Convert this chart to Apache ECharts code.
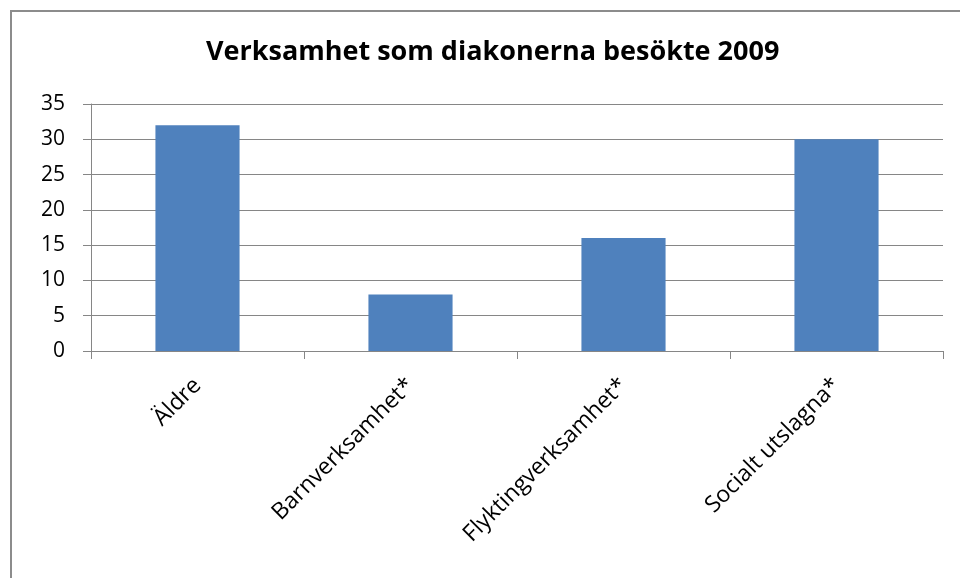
<!DOCTYPE html>
<html>
<head>
<meta charset="utf-8">
<script src="https://cdn.jsdelivr.net/npm/echarts@6/dist/echarts.min.js"></script>
<style>
html, body {margin: 0; padding: 0; background: #fff;}
#chart {width: 960px; height: 578px;}
</style>
</head>
<body>
<div id="chart"></div>
<script>
// data
var categories = ['Äldre', 'Barnverksamhet*', 'Flyktingverksamhet*', 'Socialt utslagna*'];
var values = [32, 8, 16, 30];
var titleText = 'Verksamhet som diakonerna besökte 2009';

var font = '"Open Sans", "DejaVu Sans", sans-serif';
var e = echarts.init(document.getElementById('chart'));
var option = {
    animation: false,
    backgroundColor: '#fff',
    title: {
        text: titleText,
        left: 201,
        top: 34,
        textStyle: {fontFamily: font, fontSize: 27, fontWeight: 'bold', color: '#000'}
    },
    graphic: [{
        type: 'rect',
        shape: {x: 11, y: 11, width: 980, height: 600},
        style: {fill: 'none', stroke: '#8c8c8c', lineWidth: 2},
        silent: true
    }],
    grid: {left: 91, right: 17, top: 104, bottom: 227},
    xAxis: {
        type: 'category',
        data: categories,
        axisLine: {lineStyle: {color: '#868686', width: 1}},
        axisTick: {show: true, length: 8, lineStyle: {color: '#868686'}},
        axisLabel: {
            rotate: 45,
            margin: 31,
            fontFamily: font,
            fontSize: 23,
            color: '#000'
        }
    },
    yAxis: {
        type: 'value',
        min: 0,
        max: 35,
        interval: 5,
        axisLine: {show: true, lineStyle: {color: '#868686', width: 1}},
        axisTick: {show: true, length: 8, lineStyle: {color: '#868686'}},
        splitLine: {lineStyle: {color: '#868686', width: 1}},
        axisLabel: {margin: 26, fontFamily: font, fontSize: 21, color: '#000'}
    },
    series: [{
        type: 'bar',
        data: values,
        barWidth: '39.5%',
        itemStyle: {color: '#4f81bd'}
    }]
};
e.setOption(option);
</script>
</body>
</html>
